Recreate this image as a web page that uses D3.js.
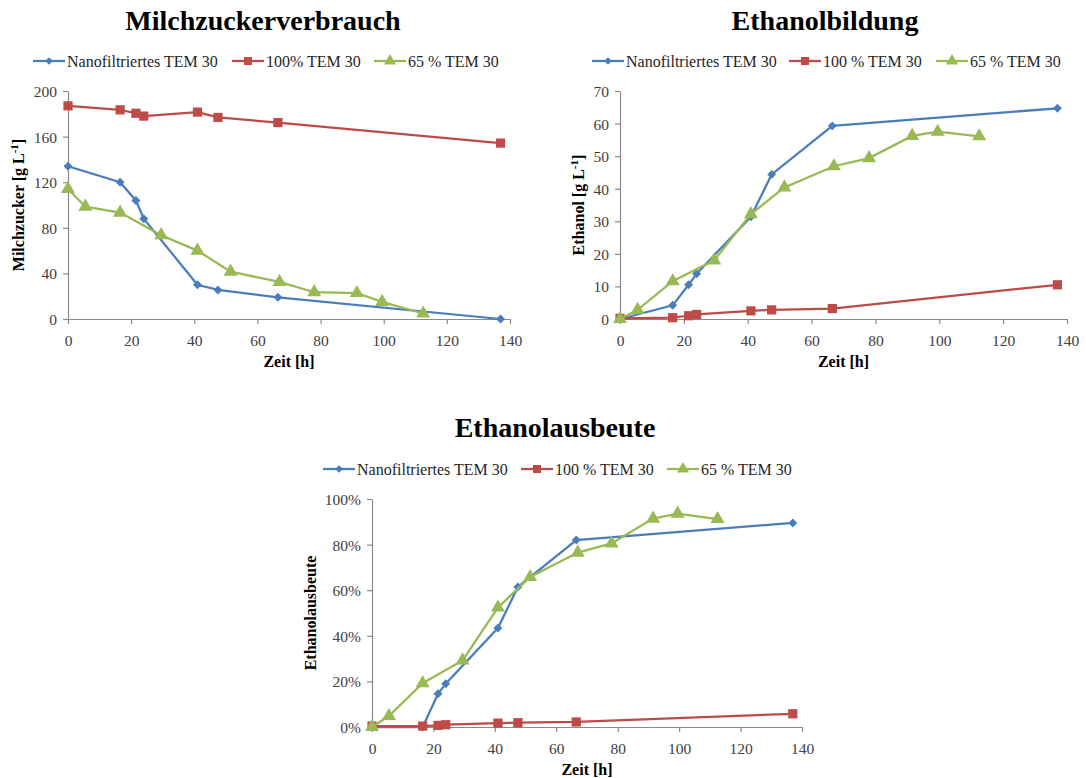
<!DOCTYPE html>
<html>
<head>
<meta charset="utf-8">
<script src="https://cdn.jsdelivr.net/npm/d3@7"></script>
<style>
  body { margin: 0; background: #fff; }
  svg text { font-family: "Liberation Serif", "Times New Roman", serif; }
</style>
</head>
<body>
<div class="charts"></div>
<script>
// series names
const seriesNames = ["Nanofiltriertes TEM 30", "100% TEM 30", "65 % TEM 30"];
const seriesNames2 = ["Nanofiltriertes TEM 30", "100 % TEM 30", "65 % TEM 30"];

// time points [h]
const timeNano = [0, 16.5, 21.5, 24, 41, 47.5, 66.5, 137];
const timeFull = [0, 16.5, 21.5, 24, 41, 47.5, 66.5, 137];
const time65 = [0, 5.5, 16.5, 29.5, 41, 51.5, 67, 78, 91.5, 99.5, 112.5];

// Milchzucker [g/L]
const lactoseNano = [134, 120, 104, 88, 30, 25.5, 19, 0];
const lactoseFull = [187, 183.5, 180.5, 178, 181.5, 176.8, 172.3, 154.3];
const lactose65 = [114, 98.5, 93.3, 73.5, 60, 41.5, 32.5, 23.5, 22.8, 15, 4.8];

// Ethanol [g/L]
const ethanolNano = [0, 4.2, 10.5, 13.9, 31.4, 44.4, 59.3, 64.7];
const ethanolFull = [0.2, 0.4, 1.0, 1.4, 2.5, 2.8, 3.2, 10.5];
const ethanol65 = [0, 2.8, 11.6, 18, 32.2, 40.4, 46.9, 49.4, 56.2, 57.5, 56.1];

// Ethanolausbeute [fraction]
const yieldNano = [0, 0, 0.146, 0.19, 0.434, 0.614, 0.82, 0.895];
const yieldFull = [0.004, 0.004, 0.007, 0.01, 0.017, 0.019, 0.022, 0.058];
const yield65 = [0, 0.048, 0.192, 0.292, 0.524, 0.658, 0.765, 0.805, 0.914, 0.936, 0.912];

const xTicks = [0, 20, 40, 60, 80, 100, 120, 140];

const colors = ["#4a7ebb", "#be4b48", "#98b954"];
const shapes = [d3.symbolSquare, d3.symbolSquare, d3.symbolTriangle];
const shapeSizes = [40, 85, 85];
const shapeRotate = [45, 0, 0];

const svg = d3.select(".charts")
  .append("svg")
  .attr("width", 1086)
  .attr("height", 778);

function drawChart(opts) {
  const g = svg.append("g");
  const x = d3.scaleLinear().domain([0, 140]).range([opts.left, opts.right]);
  const y = d3.scaleLinear().domain([0, opts.yMax]).range([opts.bottom, opts.top]);

  // title
  g.append("text")
    .attr("x", opts.titleX)
    .attr("y", opts.titleY)
    .attr("text-anchor", "middle")
    .attr("font-size", 28)
    .attr("font-weight", "bold")
    .text(opts.title);

  // axes
  const xAxis = g.append("g")
    .attr("transform", `translate(0,${opts.bottom})`)
    .call(d3.axisBottom(x).tickValues(xTicks).tickSize(5).tickSizeOuter(0));
  const yAxis = g.append("g")
    .attr("transform", `translate(${opts.left},0)`)
    .call(d3.axisLeft(y).tickValues(opts.yTicks).tickSize(5).tickSizeOuter(0)
      .tickFormat(opts.yFormat || (d => d)));
  [xAxis, yAxis].forEach(a => {
    a.attr("font-family", null);
    a.selectAll("path, line").attr("stroke", "#8a8a8a").attr("stroke-width", 1.2);
    a.selectAll("text")
      .attr("font-size", 15.5)
      .attr("fill", "#404040");
  });
  xAxis.selectAll("text").attr("dy", "1.2em");
  yAxis.selectAll("text").attr("x", -11).attr("dy", "0.35em");

  // axis labels
  g.append("text")
    .attr("x", (opts.left + opts.right) / 2)
    .attr("y", opts.bottom + 48)
    .attr("text-anchor", "middle")
    .attr("font-size", 16)
    .attr("font-weight", "bold")
    .text("Zeit [h]");

  const yl = g.append("text")
    .attr("transform", `translate(${opts.yLabelX},${(opts.top + opts.bottom) / 2}) rotate(-90)`)
    .attr("text-anchor", "middle")
    .attr("font-size", 16)
    .attr("font-weight", "bold");
  yl.append("tspan").text(opts.yLabel);
  if (opts.yUnit) {
    yl.append("tspan").text(" [g L");
    yl.append("tspan").attr("dy", -6).attr("font-size", 11).text("-1");
    yl.append("tspan").attr("dy", 6).text("]");
  }

  // series
  const line = d3.line().x(d => x(d[0])).y(d => y(d[1]));
  opts.series.forEach((s, i) => {
    const pts = d3.zip(s.t, s.v);
    g.append("path")
      .datum(pts)
      .attr("fill", "none")
      .attr("stroke", colors[i])
      .attr("stroke-width", 2.25)
      .attr("d", line);
    g.selectAll(null)
      .data(pts)
      .enter()
      .append("path")
      .attr("transform", d => `translate(${x(d[0])},${y(d[1])}) rotate(${shapeRotate[i]})`)
      .attr("d", d3.symbol().type(shapes[i]).size(shapeSizes[i]))
      .attr("fill", colors[i]);
  });

  // legend
  opts.legendX.forEach((lx, i) => {
    const lg = g.append("g").attr("transform", `translate(${lx},${opts.legendY})`);
    lg.append("line")
      .attr("x1", 0).attr("x2", 32)
      .attr("stroke", colors[i]).attr("stroke-width", 2.25);
    lg.append("path")
      .attr("transform", `translate(16,0) rotate(${shapeRotate[i]})`)
      .attr("d", d3.symbol().type(shapes[i]).size(shapeSizes[i] * 0.75))
      .attr("fill", colors[i]);
    lg.append("text")
      .attr("x", 34)
      .attr("dy", "0.35em")
      .attr("font-size", 16)
      .attr("fill", "#262626")
      .text(opts.names[i]);
  });
}

drawChart({
  title: "Milchzuckerverbrauch", titleX: 263, titleY: 30,
  left: 68, right: 510, top: 91, bottom: 319,
  yMax: 200, yTicks: [0, 40, 80, 120, 160, 200],
  yLabel: "Milchzucker", yUnit: true, yLabelX: 24,
  legendX: [33, 232, 374], legendY: 61, names: seriesNames,
  series: [
    { t: timeNano, v: lactoseNano },
    { t: timeFull, v: lactoseFull },
    { t: time65, v: lactose65 }
  ]
});

drawChart({
  title: "Ethanolbildung", titleX: 825, titleY: 30,
  left: 620, right: 1067, top: 91, bottom: 319,
  yMax: 70, yTicks: [0, 10, 20, 30, 40, 50, 60, 70],
  yLabel: "Ethanol", yUnit: true, yLabelX: 584,
  legendX: [592, 789, 936], legendY: 61, names: seriesNames2,
  series: [
    { t: timeNano, v: ethanolNano },
    { t: timeFull, v: ethanolFull },
    { t: time65, v: ethanol65 }
  ]
});

drawChart({
  title: "Ethanolausbeute", titleX: 555, titleY: 437,
  left: 372, right: 802, top: 499, bottom: 727,
  yMax: 1, yTicks: [0, 0.2, 0.4, 0.6, 0.8, 1], yFormat: d3.format(".0%"),
  yLabel: "Ethanolausbeute", yUnit: false, yLabelX: 316,
  legendX: [323, 521, 667], legendY: 469, names: seriesNames2,
  series: [
    { t: timeNano, v: yieldNano },
    { t: timeFull, v: yieldFull },
    { t: time65, v: yield65 }
  ]
});
</script>
</body>
</html>
